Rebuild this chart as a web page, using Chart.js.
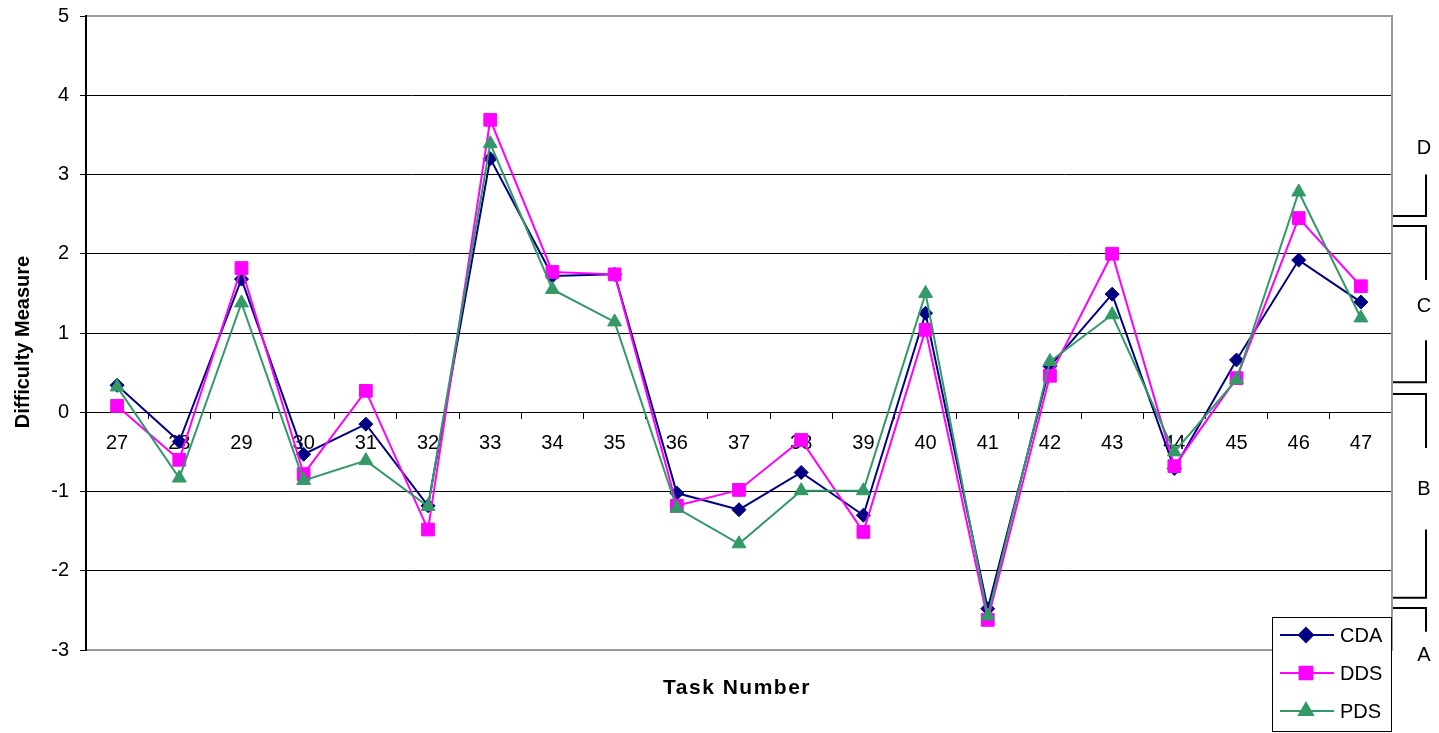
<!DOCTYPE html>
<html><head><meta charset="utf-8">
<script src="https://cdn.jsdelivr.net/npm/chart.js@4/dist/chart.umd.min.js"></script>
<style>html,body{margin:0;padding:0;background:#fff;overflow:hidden}canvas{display:block}</style>
</head><body>
<canvas id="c" width="1439" height="733"></canvas>
<script>
// ---- data ----
const taskNumbers = ['27','28','29','30','31','32','33','34','35','36','37','38','39','40','41','42','43','44','45','46','47'];
const cdaValues = [0.34,-0.37,1.68,-0.53,-0.15,-1.18,3.20,1.72,1.74,-1.02,-1.23,-0.76,-1.30,1.25,-2.48,0.58,1.49,-0.71,0.66,1.92,1.39];
const ddsValues = [0.08,-0.60,1.82,-0.78,0.27,-1.48,3.69,1.77,1.74,-1.18,-0.98,-0.35,-1.51,1.04,-2.62,0.46,2.00,-0.68,0.43,2.45,1.59];
const pdsValues = [0.32,-0.83,1.38,-0.86,-0.61,-1.19,3.39,1.55,1.14,-1.21,-1.66,-0.99,-0.99,1.50,-2.57,0.64,1.23,-0.50,0.41,2.78,1.19];
const seriesNames = ['CDA','DDS','PDS'];
const yMin = -3, yMax = 5, yStep = 1;
// grade bands on the difficulty scale (right-hand brackets)
const gradeLabels = ['D','C','B','A'];
const gradeLabelValues = [3.33, 1.34, -0.98, -3.07];
const gradeSegments = [[[3.0,2.475]], [[2.35,1.67],[0.91,0.38]], [[0.23,-0.45],[-1.48,-2.34]], [[-2.47,-2.77]]];
const gradeTicks = [[2.475], [2.35,0.38], [0.23,-2.34], [-2.47]];
const xTitle = 'Task Number';
const yTitle = 'Difficulty Measure';

const FONT = "'Liberation Sans', Arial, sans-serif";
Chart.defaults.font.family = FONT;
Chart.defaults.font.size = 20;
Chart.defaults.color = '#000';

const decor = {
  id: 'decor',
  beforeDatasetsDraw(chart) {
    const {ctx, chartArea: a} = chart;
    ctx.save();
    ctx.strokeStyle = '#9a9a9a';
    ctx.lineWidth = 2;
    ctx.beginPath();
    ctx.moveTo(a.left, a.top); ctx.lineTo(a.right, a.top); ctx.lineTo(a.right, a.bottom); ctx.lineTo(a.left, a.bottom);
    ctx.stroke();
    ctx.strokeStyle = '#000';
    ctx.beginPath(); ctx.moveTo(a.left, a.top - 1); ctx.lineTo(a.left, a.bottom + 1); ctx.stroke();
    ctx.restore();
  },
  afterDraw(chart) {
    const {ctx, chartArea: a, scales} = chart;
    const ys = scales.y;
    ctx.save();
    // brackets
    const bx = a.right + 34;
    ctx.strokeStyle = '#000';
    ctx.lineWidth = 2;
    gradeSegments.forEach((segs, i) => {
      segs.forEach(s => {
        ctx.beginPath();
        ctx.moveTo(bx, ys.getPixelForValue(s[0]));
        ctx.lineTo(bx, ys.getPixelForValue(s[1]));
        ctx.stroke();
      });
      gradeTicks[i].forEach(v => {
        const py = ys.getPixelForValue(v);
        ctx.beginPath(); ctx.moveTo(a.right + 1, py); ctx.lineTo(bx + 1, py); ctx.stroke();
      });
      ctx.fillStyle = '#000';
      ctx.font = '20px ' + FONT;
      ctx.textAlign = 'center'; ctx.textBaseline = 'middle';
      ctx.fillText(gradeLabels[i], bx - 2, ys.getPixelForValue(gradeLabelValues[i]));
    });
    // titles
    ctx.font = 'bold 20px ' + FONT;
    ctx.textAlign = 'center'; ctx.textBaseline = 'middle';
    ctx.save();
    ctx.translate(23, (a.top + a.bottom) / 2 + 9);
    ctx.rotate(-Math.PI / 2);
    ctx.fillText(yTitle, 0, 0);
    ctx.restore();
    ctx.font = 'bold 21px ' + FONT;
    if ('letterSpacing' in ctx) ctx.letterSpacing = '1.5px';
    ctx.fillText(xTitle, (a.left + a.right) / 2 - 2, a.bottom + 38);
    if ('letterSpacing' in ctx) ctx.letterSpacing = '0px';
    // legend
    const lx = a.right - 120, ly = a.bottom - 33, lw = 120, lh = 115;
    ctx.fillStyle = '#fff';
    ctx.fillRect(lx, ly, lw, lh);
    ctx.strokeStyle = '#000'; ctx.lineWidth = 1;
    ctx.strokeRect(lx + 0.5, ly + 0.5, lw - 1, lh - 1);
    chart.data.datasets.forEach((ds, i) => {
      const ry = ly + 18 + i * 38;
      ctx.strokeStyle = ds.borderColor; ctx.lineWidth = 2;
      ctx.beginPath(); ctx.moveTo(lx + 8, ry); ctx.lineTo(lx + 62, ry); ctx.stroke();
      ctx.fillStyle = ds.pointBackgroundColor;
      ctx.strokeStyle = ds.pointBorderColor;
      Chart.helpers.drawPoint(ctx, {pointStyle: ds.pointStyle, radius: ds.pointRadius, rotation: 0, borderWidth: 1}, lx + 34, ry);
      ctx.fillStyle = '#000';
      ctx.font = '20px ' + FONT;
      ctx.textAlign = 'left'; ctx.textBaseline = 'middle';
      ctx.fillText(ds.label, lx + 68, ry + 1);
    });
    ctx.restore();
  }
};

function series(label, data, color, style, radius, order) {
  return {label, data, borderColor: color, backgroundColor: color, pointBackgroundColor: color,
    pointBorderColor: color, pointBorderWidth: 1, pointStyle: style, pointRadius: radius,
    pointHoverRadius: radius, borderWidth: 2, tension: 0, fill: false, order};
}

new Chart(document.getElementById('c'), {
  type: 'line',
  data: {
    labels: taskNumbers,
    datasets: [
      series(seriesNames[0], cdaValues, '#000080', 'rectRot', 7, 3),
      series(seriesNames[1], ddsValues, '#ff00ff', 'rect', 9, 2),
      series(seriesNames[2], pdsValues, '#339966', 'triangle', 8, 1)
    ]
  },
  options: {
    responsive: false,
    devicePixelRatio: 1,
    animation: false,
    layout: {padding: {left: 0, right: 47, top: 16, bottom: 83}},
    plugins: {legend: {display: false}, tooltip: {enabled: false}},
    scales: {
      x: {
        type: 'category', offset: true, position: {y: 0}, z: 1,
        grid: {offset: true, drawOnChartArea: false, drawTicks: true, tickLength: 6, color: '#000', tickColor: '#000'},
        border: {display: true, color: '#000', width: 1},
        ticks: {padding: 13, maxRotation: 0, autoSkip: false, color: '#000', font: {size: 20}}
      },
      y: {
        min: yMin, max: yMax,
        afterFit(s) { s.width = 86; s.paddingTop = 0; s.paddingBottom = 0; },
        grid: {color: c => (c.tick && (c.tick.value === yMax || c.tick.value === yMin)) ? 'rgba(0,0,0,0)' : '#000',
               tickColor: '#000', tickLength: 6, lineWidth: 1},
        border: {display: false},
        ticks: {stepSize: yStep, padding: 11, color: '#000', font: {size: 20}}
      }
    }
  },
  plugins: [decor]
});
</script>
</body></html>
